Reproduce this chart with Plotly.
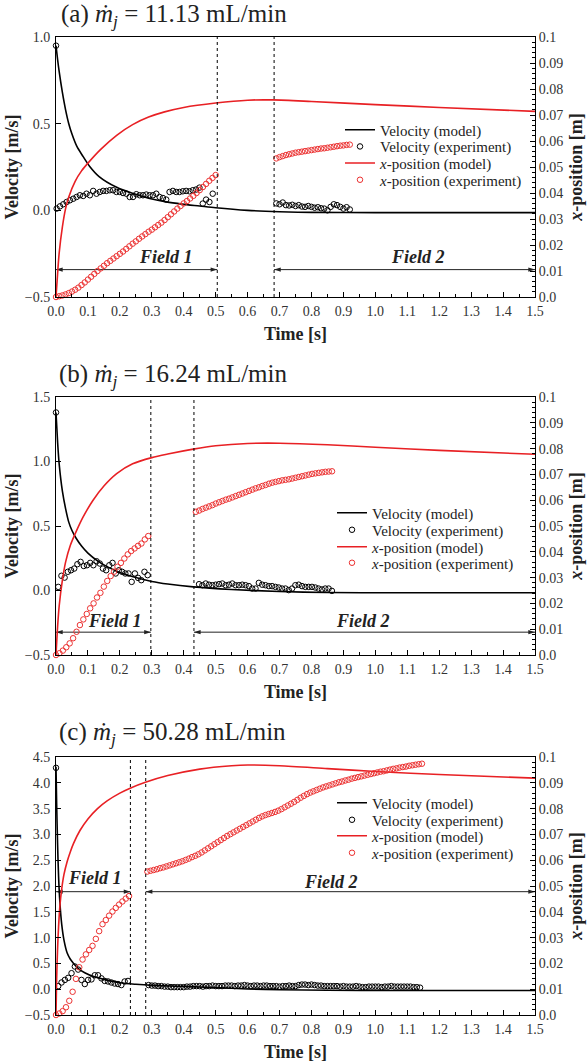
import numpy as np
import plotly.graph_objects as go

FONT = "Liberation Serif, Times New Roman, Times, serif"
W, H = 587, 1063
RED = "rgb(232,32,36)"
RED_M = "rgb(236,50,50)"
INK = "#222"

# ---------------- panel (a) ----------------
a_t_model = [0, 0.005, 0.01, 0.02, 0.03, 0.04, 0.05, 0.065, 0.085, 0.105, 0.135, 0.19, 0.24,
             0.29, 0.345, 0.395, 0.45, 0.5, 0.6, 0.7, 0.8, 1.0, 1.2, 1.5]
a_v_model = [0.95, 0.87, 0.80, 0.68, 0.58, 0.50, 0.44, 0.37, 0.31, 0.255, 0.195, 0.133, 0.098,
             0.070, 0.049, 0.036, 0.025, 0.015, 0.0, -0.008, -0.012, -0.013, -0.013, -0.013]
a_tx_model = [0, 0.005, 0.01, 0.02, 0.03, 0.04, 0.06, 0.08, 0.1, 0.14, 0.19, 0.24, 0.29, 0.34,
              0.4, 0.5, 0.6, 0.68, 0.8, 1.0, 1.2, 1.5]
a_x_model = [0.0, 0.009, 0.017, 0.027, 0.034, 0.0385, 0.0445, 0.0485, 0.0515, 0.0568, 0.0622,
             0.0663, 0.0692, 0.0712, 0.0729, 0.0746, 0.0757, 0.0758, 0.0752, 0.0740, 0.0729, 0.0714]
a_v0 = 0.95
a_v_f1 = [0.010, 0.023, 0.035, 0.048, 0.058, 0.067, 0.077, 0.087, 0.083, 0.096, 0.087, 0.112,
          0.096, 0.106, 0.112, 0.112, 0.116, 0.116, 0.106, 0.106, 0.100, 0.096, 0.077, 0.077,
          0.093, 0.087, 0.087, 0.091, 0.087, 0.087, 0.096, 0.077, 0.071, 0.062, 0.106, 0.112,
          0.106, 0.106, 0.110, 0.112, 0.110, 0.116, 0.120, 0.131, 0.039, 0.062, 0.048, 0.096]
a_v_f2 = [0.040, 0.035, 0.045, 0.030, 0.028, 0.032, 0.025, 0.030, 0.022, 0.020, 0.025, 0.020,
          0.015, 0.018, 0.012, 0.010, 0.000, 0.020, 0.035, 0.030, 0.020, 0.010, 0.018, 0.005]
a_x_f1 = [0.0000, 0.0003, 0.0006, 0.0010, 0.0015, 0.0021, 0.0028, 0.0036, 0.0046, 0.0056,
          0.0067, 0.0078, 0.0089, 0.0100, 0.0110, 0.0120, 0.0130, 0.0139, 0.0148, 0.0157,
          0.0166, 0.0175, 0.0185, 0.0195, 0.0205, 0.0214, 0.0224, 0.0233, 0.0242, 0.0251,
          0.0259, 0.0268, 0.0277, 0.0286, 0.0296, 0.0307, 0.0318, 0.0329, 0.0340, 0.0350,
          0.0360, 0.0369, 0.0379, 0.0389, 0.0400, 0.0411, 0.0423, 0.0435, 0.0447, 0.0458, 0.0469]
a_x_f2 = [0.0533, 0.0538, 0.0542, 0.0546, 0.0549, 0.0552, 0.0555, 0.0557, 0.0559, 0.0561,
          0.0563, 0.0565, 0.0567, 0.0569, 0.0571, 0.0572, 0.0574, 0.0576, 0.0578, 0.0580,
          0.0582, 0.0583, 0.0585, 0.0586]
a_frames = dict(v1=(0.002, 0.0104), v2=(0.69, 0.01), x1=(0.0, 0.01), x2=(0.69, 0.01))
a_fields = dict(lines=[0.505, 0.683], arrow_y=-0.342, f1=(0.345, -0.27), f2=(1.134, -0.27))

# ---------------- panel (b) ----------------
b_t_model = [0, 0.005, 0.01, 0.02, 0.03, 0.04, 0.05, 0.063, 0.08, 0.1, 0.13, 0.16, 0.2, 0.25,
             0.3, 0.35, 0.43, 0.55, 0.7, 0.85, 1.0, 1.5]
b_v_model = [1.38, 1.15, 0.98, 0.77, 0.635, 0.53, 0.465, 0.405, 0.345, 0.29, 0.23, 0.185, 0.14,
             0.10, 0.07, 0.05, 0.028, 0.008, -0.008, -0.016, -0.018, -0.018]
b_tx_model = [0, 0.005, 0.01, 0.02, 0.03, 0.045, 0.063, 0.085, 0.115, 0.15, 0.19, 0.24, 0.3,
              0.35, 0.43, 0.5, 0.6, 0.7, 0.85, 1.0, 1.2, 1.5]
b_x_model = [0.0, 0.011, 0.019, 0.029, 0.036, 0.0425, 0.0478, 0.0535, 0.0598, 0.0655, 0.0703,
             0.0741, 0.0765, 0.0779, 0.0798, 0.0811, 0.0820, 0.0821, 0.0815, 0.0805, 0.0793, 0.0778]
b_v0 = 1.38
b_v_f1 = [0.028, 0.114, 0.100, 0.145, 0.157, 0.170, 0.204, 0.222, 0.190, 0.196, 0.214, 0.196,
          0.227, 0.209, 0.170, 0.157, 0.196, 0.214, 0.132, 0.157, 0.145, 0.132, 0.132, 0.067,
          0.132, 0.098, 0.080, 0.145, 0.119]
b_v_f2 = [0.049, 0.041, 0.054, 0.045, 0.041, 0.045, 0.049, 0.054, 0.041, 0.045, 0.054, 0.041,
          0.041, 0.045, 0.041, 0.034, 0.015, 0.015, 0.059, 0.045, 0.041, 0.034, 0.034, 0.028,
          0.023, 0.015, 0.015, 0.003, 0.015, 0.041, 0.045, 0.034, 0.028, 0.028, 0.028, 0.023,
          0.015, 0.008, 0.015, 0.015, -0.003]
b_x_f1 = [0.0000, 0.0007, 0.0017, 0.0030, 0.0045, 0.0065, 0.0090, 0.0116, 0.0138, 0.0159,
          0.0181, 0.0200, 0.0223, 0.0241, 0.0265, 0.0287, 0.0306, 0.0323, 0.0342, 0.0357,
          0.0374, 0.0390, 0.0403, 0.0413, 0.0423, 0.0432, 0.0448, 0.0461]
b_x_f2 = [0.0555, 0.0560, 0.0566, 0.0571, 0.0576, 0.0581, 0.0587, 0.0592, 0.0597, 0.0602,
          0.0606, 0.0611, 0.0616, 0.0621, 0.0626, 0.0631, 0.0636, 0.0641, 0.0646, 0.0650,
          0.0655, 0.0659, 0.0664, 0.0668, 0.0671, 0.0674, 0.0677, 0.0679, 0.0681, 0.0684,
          0.0687, 0.0690, 0.0693, 0.0696, 0.0699, 0.0702, 0.0704, 0.0706, 0.0708, 0.0710,
          0.0711, 0.0712]
b_frames = dict(v1=(0.007, 0.01), v2=(0.448, 0.0104), x1=(0.0, 0.0107), x2=(0.438, 0.0104))
b_fields = dict(lines=[0.297, 0.432], arrow_y=-0.323, f1=(0.185, -0.235), f2=(0.961, -0.24))

# ---------------- panel (c) ----------------
c_t_model = [0, 0.002, 0.005, 0.008, 0.012, 0.018, 0.025, 0.035, 0.045, 0.055, 0.07, 0.09, 0.12,
             0.15, 0.2, 0.25, 0.3, 0.4, 0.5, 0.6, 0.7, 0.85, 1.0, 1.5]
c_v_model = [4.31, 3.6, 2.8, 2.2, 1.7, 1.25, 0.95, 0.70, 0.58, 0.50, 0.40, 0.32, 0.24, 0.19,
             0.125, 0.095, 0.075, 0.055, 0.03, 0.005, -0.01, -0.02, -0.025, -0.026]
c_tx_model = [0, 0.002, 0.005, 0.008, 0.012, 0.018, 0.025, 0.035, 0.045, 0.055, 0.075, 0.1, 0.13,
              0.16, 0.2, 0.234, 0.28, 0.35, 0.45, 0.55, 0.6, 0.7, 0.85, 1.0, 1.2, 1.5]
c_x_model = [0.0, 0.014, 0.026, 0.034, 0.042, 0.049, 0.0545, 0.0595, 0.0633, 0.0665, 0.0715,
             0.0760, 0.0800, 0.0830, 0.0860, 0.0880, 0.0902, 0.0928, 0.0953, 0.0966, 0.0969,
             0.0966, 0.0955, 0.0944, 0.0932, 0.0918]
c_v0 = 4.29
c_v_f1 = [0.06, 0.13, 0.18, 0.22, 0.31, 0.44, 0.38, 0.18, 0.10, 0.18, 0.19, 0.27, 0.27, 0.21,
          0.16, 0.15, 0.13, 0.11, 0.10, 0.08, 0.15, 0.16]
c_v_f2 = [0.08, 0.07, 0.07, 0.06, 0.06, 0.05, 0.05, 0.04, 0.04, 0.04, 0.04, 0.04, 0.05, 0.05,
          0.06, 0.06, 0.06, 0.05, 0.06, 0.06, 0.07, 0.06, 0.06, 0.06, 0.07, 0.07, 0.07, 0.06,
          0.07, 0.07, 0.08, 0.07, 0.06, 0.07, 0.07, 0.06, 0.07, 0.07, 0.06, 0.06, 0.06, 0.05,
          0.06, 0.06, 0.07, 0.06, 0.06, 0.08, 0.09, 0.09, 0.08, 0.09, 0.08, 0.07, 0.07, 0.06,
          0.06, 0.06, 0.06, 0.06, 0.05, 0.06, 0.05, 0.05, 0.05, 0.06, 0.05, 0.04, 0.04, 0.05,
          0.05, 0.05, 0.05, 0.04, 0.05, 0.05, 0.06, 0.05, 0.05, 0.05, 0.05, 0.05, 0.05, 0.04,
          0.04, 0.03]
c_x_f1 = [0.0000, 0.0006, 0.0015, 0.0030, 0.0055, 0.0090, 0.0140, 0.0185, 0.0215, 0.0235,
          0.0252, 0.0268, 0.0295, 0.0325, 0.0352, 0.0368, 0.0385, 0.0401, 0.0415, 0.0428,
          0.0440, 0.0451, 0.0461]
c_x_f2 = [0.0556, 0.0559, 0.0562, 0.0565, 0.0569, 0.0572, 0.0576, 0.0580, 0.0584, 0.0588,
          0.0592, 0.0596, 0.0601, 0.0606, 0.0612, 0.0617, 0.0623, 0.0630, 0.0638, 0.0646,
          0.0654, 0.0662, 0.0670, 0.0678, 0.0686, 0.0694, 0.0701, 0.0708, 0.0715, 0.0722,
          0.0729, 0.0736, 0.0743, 0.0750, 0.0757, 0.0764, 0.0770, 0.0775, 0.0779, 0.0783,
          0.0787, 0.0792, 0.0798, 0.0805, 0.0812, 0.0819, 0.0826, 0.0834, 0.0842, 0.0849,
          0.0856, 0.0862, 0.0867, 0.0872, 0.0877, 0.0882, 0.0886, 0.0890, 0.0894, 0.0898,
          0.0902, 0.0905, 0.0909, 0.0912, 0.0916, 0.0919, 0.0922, 0.0925, 0.0928, 0.0931,
          0.0934, 0.0937, 0.0940, 0.0943, 0.0945, 0.0948, 0.0951, 0.0954, 0.0956, 0.0959,
          0.0961, 0.0963, 0.0966, 0.0968, 0.0970, 0.0972, 0.0974]
c_frames = dict(v1=(0.007, 0.0104), v2=(0.29, 0.01), x1=(0.0, 0.0104), x2=(0.286, 0.01))
c_fields = dict(lines=[0.233, 0.281], arrow_y=1.89, f1=(0.122, 2.16), f2=(0.86, 2.08))

titles = ["(a) <i>ṁ</i><sub><i>j</i></sub> = 11.13 mL/min",
          "(b) <i>ṁ</i><sub><i>j</i></sub> = 16.24 mL/min",
          "(c) <i>ṁ</i><sub><i>j</i></sub> = 50.28 mL/min"]
legend_names = ["Velocity (model)", "Velocity (experiment)",
                "<i>x</i>-position (model)", "<i>x</i>-position (experiment)"]
x_ticks = [round(0.1 * i, 1) for i in range(16)]
right_ticks = [0.0, 0.01, 0.02, 0.03, 0.04, 0.05, 0.06, 0.07, 0.08, 0.09, 0.1]
right_labels = ["0.0", "0.01", "0.02", "0.03", "0.04", "0.05", "0.06", "0.07", "0.08", "0.09", "0.1"]
left_ranges = [[-0.5, 1.0], [-0.5, 1.5], [-0.5, 4.5]]

# layout geometry in pixels (plot area), title and legend positions
plot_x = (56, 535)
plot_y = [(37, 297), (397, 655), (757, 1015)]
title_pos = [(59, 16), (57, 375), (57, 733)]
legend_rows = [[130, 146.7, 163.3, 180], [513, 530, 547, 563], [803, 820, 836, 853]]
legend_text_x = [380, 372, 372]

panels = [
    (a_t_model, a_v_model, a_tx_model, a_x_model, a_v0, a_v_f1, a_v_f2, a_x_f1, a_x_f2, a_frames, a_fields),
    (b_t_model, b_v_model, b_tx_model, b_x_model, b_v0, b_v_f1, b_v_f2, b_x_f1, b_x_f2, b_frames, b_fields),
    (c_t_model, c_v_model, c_tx_model, c_x_model, c_v0, c_v_f1, c_v_f2, c_x_f1, c_x_f2, c_frames, c_fields),
]


def frame_times(start_dt, n):
    t0, dt = start_dt
    return list(t0 + dt * np.arange(n))


fig = go.Figure()
layout = dict(width=W, height=H, margin=dict(l=0, r=0, t=0, b=0),
              paper_bgcolor="white", plot_bgcolor="white",
              font=dict(family=FONT, color=INK))
annotations = []
shapes = []
tickfont = dict(family=FONT, size=14, color="#333")
titlefont = dict(family=FONT, size=18, color=INK)

for p, (tm, vm, txm, xm, v0, vf1, vf2, xf1, xf2, fr, fl) in enumerate(panels):
    xa = "x" if p == 0 else f"x{p + 1}"
    yl = "y" if p == 0 else f"y{2 * p + 1}"
    yr = f"y{2 * p + 2}"
    leg = []
    for k in range(4):
        n = 4 * p + k + 1
        leg.append("legend" if n == 1 else f"legend{n}")

    tv = [0.0] + frame_times(fr["v1"], len(vf1)) + frame_times(fr["v2"], len(vf2))
    vv = [v0] + vf1 + vf2
    tx = frame_times(fr["x1"], len(xf1)) + frame_times(fr["x2"], len(xf2))
    xx = xf1 + xf2

    # field arrows (double-headed), drawn in data coordinates
    ay = fl["arrow_y"]
    for xs, xe in [(0.0, fl["lines"][0]), (fl["lines"][1], 1.5)]:
        fig.add_trace(go.Scatter(x=[xs, xe], y=[ay, ay], mode="lines+markers", showlegend=False,
                                 hoverinfo="skip", cliponaxis=False,
                                 line=dict(color=INK, width=1),
                                 marker=dict(symbol="arrow", size=7, angle=[-90, 90], color=INK,
                                             line=dict(width=0)),
                                 xaxis=xa, yaxis=yl))

    fig.add_trace(go.Scatter(x=tm, y=vm, mode="lines", name=legend_names[0], legend=leg[0],
                             line=dict(color="black", width=1.6, shape="spline", smoothing=0.8),
                             xaxis=xa, yaxis=yl))
    fig.add_trace(go.Scatter(x=tv, y=vv, mode="markers", name=legend_names[1], legend=leg[1],
                             marker=dict(symbol="circle-open", size=5.5, color="black",
                                         line=dict(width=1, color="black")),
                             cliponaxis=False, xaxis=xa, yaxis=yl))
    fig.add_trace(go.Scatter(x=txm, y=xm, mode="lines", name=legend_names[2], legend=leg[2],
                             line=dict(color=RED, width=1.6, shape="spline", smoothing=0.8),
                             xaxis=xa, yaxis=yr))
    fig.add_trace(go.Scatter(x=tx, y=xx, mode="markers", name=legend_names[3], legend=leg[3],
                             marker=dict(symbol="circle-open", size=5.5, color=RED_M,
                                         line=dict(width=1, color=RED_M)),
                             cliponaxis=False, xaxis=xa, yaxis=yr))

    y0p, y1p = plot_y[p]
    ydom = [1 - y1p / H, 1 - y0p / H]
    xdom = [plot_x[0] / W, plot_x[1] / W]
    xkey = "xaxis" if p == 0 else f"xaxis{p + 1}"
    ylkey = "yaxis" if p == 0 else f"yaxis{2 * p + 1}"
    yrkey = f"yaxis{2 * p + 2}"
    layout[xkey] = dict(domain=xdom, anchor=yl, range=[0, 1.5], tickvals=x_ticks,
                        tickformat=".1f", ticks="inside", ticklen=5, tickcolor="black",
                        showline=True, linecolor="black", linewidth=1, mirror=True,
                        showgrid=False, zeroline=False, tickfont=tickfont,
                        ticklabelstandoff=1,
                        minor=dict(dtick=0.05, ticks="inside", ticklen=3, tickcolor="black"),
                        title=dict(text="<b>Time [s]</b>", font=titlefont, standoff=9),
                        automargin=False)
    lo, hi = left_ranges[p]
    layout[ylkey] = dict(domain=ydom, anchor=xa, range=[lo, hi], dtick=0.5, tick0=-0.5,
                         tickformat=".1f", ticks="inside", ticklen=5, tickcolor="black",
                         showline=True, linecolor="black", linewidth=1, showgrid=False,
                         zeroline=False, tickfont=tickfont, ticklabelstandoff=2,
                         title=dict(text="<b>Velocity [m/s]</b>", font=titlefont, standoff=1),
                         automargin=False)
    layout[yrkey] = dict(domain=ydom, anchor=xa, overlaying=yl, side="right", range=[0, 0.1],
                         tickvals=right_ticks, ticktext=right_labels, ticks="inside", ticklen=5,
                         tickcolor="black", showline=True, linecolor="black", linewidth=1,
                         showgrid=False, zeroline=False, tickfont=tickfont, ticklabelstandoff=0,
                         minor=dict(dtick=0.002, tick0=0, ticks="inside", ticklen=3,
                                    tickcolor="black"),
                         title=dict(text="<b><i>x</i>-position [m]</b>", font=titlefont,
                                    standoff=7),
                         automargin=False)

    # legends, one entry each so rows can sit as tightly as in the reference
    for k in range(4):
        layout[leg[k]] = dict(x=(legend_text_x[p] - 40) / W, y=1 - legend_rows[p][k] / H,
                              xanchor="left", yanchor="middle", bgcolor="rgba(0,0,0,0)",
                              borderwidth=0, font=dict(family=FONT, size=15, color=INK),
                              tracegroupgap=0)

    # field boundaries
    for xl in fl["lines"]:
        shapes.append(dict(type="line", xref=xa, yref=f"{yl} domain", x0=xl, x1=xl, y0=0, y1=1,
                           line=dict(color="black", width=1, dash="dot")))
    for label, (fx, fy) in [("Field 1", fl["f1"]), ("Field 2", fl["f2"])]:
        annotations.append(dict(x=fx, y=fy, xref=xa, yref=yl, text=f"<b><i>{label}</i></b>",
                                showarrow=False, font=dict(family=FONT, size=18, color=INK)))
    tx_, ty_ = title_pos[p]
    annotations.append(dict(x=tx_ / W, y=1 - ty_ / H, xref="paper", yref="paper",
                            xanchor="left", yanchor="middle", text=titles[p], showarrow=False,
                            font=dict(family=FONT, size=25, color=INK)))

layout["annotations"] = annotations
layout["shapes"] = shapes
layout["showlegend"] = True
fig.update_layout(**layout)
fig.write_html("out.html", config={"displayModeBar": False},
               post_script="document.body.style.margin='0';")
